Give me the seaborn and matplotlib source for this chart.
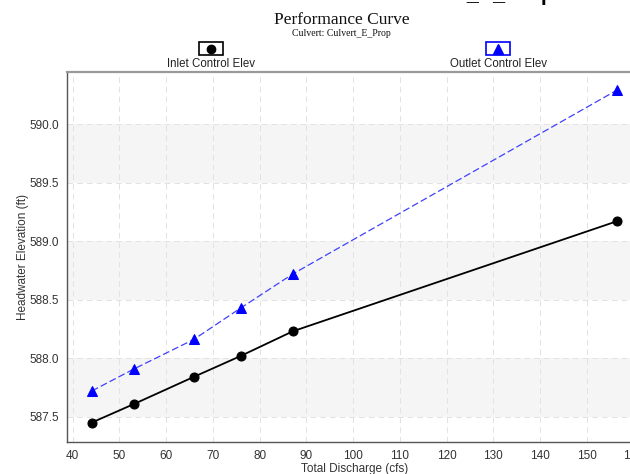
import numpy as np
import pandas as pd
import matplotlib
matplotlib.use("Agg")
import matplotlib.pyplot as plt
import seaborn as sns
from matplotlib.patches import Rectangle
from matplotlib.lines import Line2D
from matplotlib.ticker import MultipleLocator

# ---- data ----
discharge = [44.1, 53.2, 65.9, 76.0, 87.1, 156.4]
inlet_elev = [587.45, 587.61, 587.84, 588.02, 588.23, 589.17]
outlet_elev = [587.72, 587.91, 588.16, 588.43, 588.72, 590.29]
series_names = ["Inlet Control Elev", "Outlet Control Elev"]
title = "Performance Curve"
subtitle = "Culvert: Culvert_E_Prop"
top_heading = "Performance Curve Plot: Culvert_E_Prop"
xlabel = "Total Discharge (cfs)"
ylabel = "Headwater Elevation (ft)"

sns.set_theme(style="white")
plt.rcParams["font.family"] = ["Liberation Sans", "DejaVu Sans"]
plt.rcParams["lines.scale_dashes"] = False

W, H = 630, 474
fig = plt.figure(figsize=(W / 100, H / 100), dpi=100)

def fx(px):
    return px / W

def fy(py):
    return 1 - py / H

# axes placement (extends beyond right edge like the cropped reference)
ax_left, ax_top, ax_bottom = 67.3, 71.5, 441.5
x0, x1 = 38.85, 162.0
ppu = 4.673
ax_right = ax_left + (x1 - x0) * ppu
ax = fig.add_axes([fx(ax_left), fy(ax_bottom), (ax_right - ax_left) / W,
                   (ax_bottom - ax_top) / H])

ax.set_xlim(x0, x1)
ax.set_ylim(587.288, 590.451)

# alternating bands
for lo in [587.5, 588.5, 589.5]:
    ax.axhspan(lo, lo + 0.5, color="#f5f5f5", zorder=0, lw=0)

df = pd.DataFrame({"Q": discharge, "inlet": inlet_elev, "outlet": outlet_elev})

sns.lineplot(data=df, x="Q", y="outlet", ax=ax, color="#4040ff", lw=0.9,
             linestyle="--", marker="^", markersize=7.5, markerfacecolor="#0000ff",
             markeredgecolor="#0000ff", zorder=3)
sns.lineplot(data=df, x="Q", y="inlet", ax=ax, color="black", lw=1.3,
             marker="o", markersize=6.5, markerfacecolor="black",
             markeredgecolor="black", zorder=4)
ax.lines[0].set_dashes([5, 2.2])

# grid
ax.xaxis.set_major_locator(MultipleLocator(10))
ax.xaxis.set_minor_locator(MultipleLocator(2))
ax.yaxis.set_major_locator(MultipleLocator(0.5))
ax.yaxis.set_minor_locator(MultipleLocator(0.1))
ax.grid(True, which="major", color="#e2e2e2", lw=0.7, linestyle=(0, (4, 3)))
ax.set_axisbelow(True)
ax.yaxis.set_major_formatter(matplotlib.ticker.FormatStrFormatter("%.1f"))

ax.tick_params(axis="both", which="major", direction="out", length=4, width=0.8,
               color="#444444", labelsize=8.5, labelcolor="#333333", pad=2)
ax.tick_params(axis="x", which="minor", direction="in", length=5, width=0.8,
               color="#444444")
ax.tick_params(axis="y", which="minor", direction="in", length=4, width=0.8,
               color="#444444")

for s in ["left", "bottom"]:
    ax.spines[s].set_color("#555555")
    ax.spines[s].set_linewidth(1.0)
ax.spines["top"].set_color("#999999")
ax.spines["top"].set_linewidth(1.6)
ax.spines["right"].set_visible(False)

ax.set_xlabel(xlabel, fontsize=8.5, color="#333333", labelpad=1)
ax.set_ylabel(ylabel, fontsize=8.5, color="#333333", labelpad=0.5)

# titles
fig.text(fx(342), fy(24), title, family=["Liberation Serif", "DejaVu Serif"],
         fontsize=12.5, ha="center", va="baseline", color="#111111")
fig.text(fx(341), fy(36.5), subtitle, family=["Liberation Serif", "DejaVu Serif"],
         fontsize=7, ha="center", va="baseline", color="#111111")

# cut-off heading at the very top
fig.text(fx(554), fy(0.2), top_heading, fontsize=15.5, fontweight="bold",
         ha="right", va="baseline", color="black")

# custom legend above the plot
legend_specs = [
    (211, series_names[0], "black", "o", 6),
    (498, series_names[1], "#0000ff", "^", 7),
]
for cx, name, col, mk, ms in legend_specs:
    fig.add_artist(Rectangle((fx(cx - 12), fy(54.5)), 24 / W, 12 / H,
                             transform=fig.transFigure, fill=False,
                             edgecolor=col, lw=1.2))
    fig.add_artist(Line2D([fx(cx)], [fy(48.7)], transform=fig.transFigure,
                          marker=mk, markersize=ms, color=col, lw=0))
    fig.text(fx(cx), fy(66.7), name, fontsize=8.3, ha="center", va="baseline",
             color="#222222")

fig.savefig("out.png", dpi=100)
